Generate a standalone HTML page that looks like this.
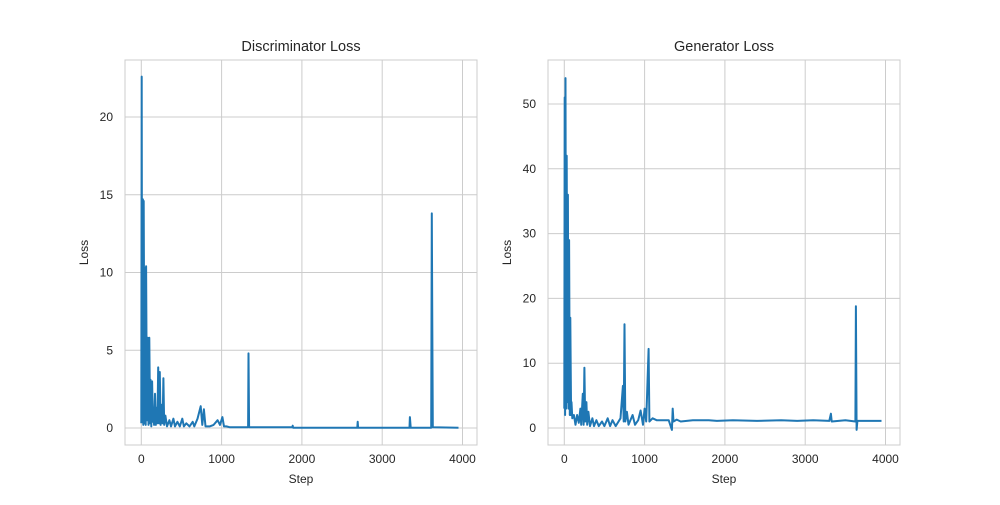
<!DOCTYPE html>
<html><head><meta charset="utf-8"><style>
body{margin:0;background:#fff;width:1000px;height:500px;overflow:hidden}
svg text{font-family:"Liberation Sans","DejaVu Sans",sans-serif;fill:#262626}
</style></head><body>
<svg id="fig" width="1000" height="500" xmlns="http://www.w3.org/2000/svg"></svg>
<script>
const dSteps=[0,5,10,20,25,30,40,45,55,60,70,80,90,100,110,115,125,135,145,150,160,170,180,190,200,210,220,230,240,255,265,275,285,300,320,350,370,400,420,450,480,510,530,560,600,640,660,700,740,760,780,800,850,900,950,980,1010,1030,1060,1100,1330,1335,1342,1880,1885,1890,2690,2695,2700,3340,3345,3355,3610,3618,3624,3630,3950];
const dVals=[0.3,22.6,0.5,14.7,0.2,14.6,0.3,10.3,0.2,10.4,0.5,5.8,0.2,5.8,0.3,3.1,0.1,3.0,0.4,1.0,0.2,2.2,0.2,1.3,0.3,3.9,0.3,3.6,0.2,1.5,0.3,3.2,0.2,0.8,0.1,0.5,0.1,0.6,0.1,0.4,0.1,0.6,0.1,0.3,0.1,0.4,0.1,0.6,1.4,0.2,1.2,0.1,0.1,0.2,0.5,0.2,0.7,0.1,0.1,0.05,0.05,4.8,0.05,0.05,0.15,0.02,0.02,0.4,0.02,0.02,0.7,0.02,0.02,13.8,6.5,0.05,0.02];
const gSteps=[0,5,10,15,22,30,38,45,52,60,68,75,85,90,100,120,140,160,180,200,210,230,240,250,260,275,285,300,320,350,370,400,430,470,500,540,570,600,640,700,730,740,750,760,780,800,850,880,920,950,980,1000,1020,1050,1060,1100,1150,1300,1340,1350,1360,1400,1450,1600,1800,1900,2100,2400,2700,2900,3100,3300,3320,3330,3500,3625,3632,3640,3650,3950];
const gVals=[3,51,2,54,3,42,4,36,3,29,2,17,2,4,1.5,2,0.5,2,0.8,3,0.5,5.3,0.5,9.3,1,4,0.5,2.5,0.3,1.5,0.3,1.2,0.3,1.0,0.3,1.5,0.3,1.2,0.3,1.5,6.5,1,16,1,2.5,0.5,2,0.5,1.2,2.7,0.5,3,1,12.2,1,1.5,1.2,1.2,-0.3,3,1,1.3,1,1.2,1.2,1.1,1.2,1.1,1.2,1.1,1.2,1.1,2.2,1,1.2,1,18.8,-0.3,1.1,1.1];
const xTicks=[0,1000,2000,3000,4000];
const dTicks=[0,5,10,15,20];
const gTicks=[0,10,20,30,40,50];
const NS="http://www.w3.org/2000/svg";
const svg=document.getElementById('fig');
function el(t,a,p){const e=document.createElementNS(NS,t);for(const k in a)e.setAttribute(k,a[k]);(p||svg).appendChild(e);return e;}
function panel(name,L,R,T,B,x0,x1,y0,y0v,yPer,yTicks,steps,vals,title){
  const g=el('g',{});
  
  
  const X=s=>x0+(x1-x0)*s/4000, Y=v=>y0-v*yPer;
  xTicks.forEach(t=>{const l=el('line',{x1:X(t),x2:X(t),y1:T,y2:B,stroke:'#cccccc','stroke-width':1},g);
    
    const tx=el('text',{x:X(t),y:B+18,'text-anchor':'middle','font-size':12},g);tx.textContent=t;
    });
  yTicks.forEach(t=>{const l=el('line',{x1:L,x2:R,y1:Y(t),y2:Y(t),stroke:'#cccccc','stroke-width':1},g);
    
    const tx=el('text',{x:L-12,y:Y(t)+4,'text-anchor':'end','font-size':12},g);tx.textContent=t;
    });
  const fr=el('rect',{x:L,y:T,width:R-L,height:B-T,fill:'none',stroke:'#cccccc','stroke-width':1},g);
  
  const pts=steps.map((s,i)=>X(s).toFixed(1)+','+Y(vals[i]).toFixed(1)).join(' ');
  const pl=el('polyline',{points:pts,fill:'none',stroke:'#1f77b4','stroke-width':2,'stroke-linejoin':'round'},g);
  
  const tt=el('text',{x:(L+R)/2,y:T-9,'text-anchor':'middle','font-size':14.5},g);tt.textContent=title;
  
  const xl=el('text',{x:(L+R)/2,y:B+38,'text-anchor':'middle','font-size':12},g);xl.textContent='Step';
  
  const yl=el('text',{x:0,y:0,'text-anchor':'middle','font-size':12,transform:`translate(${L-37},${(T+B)/2}) rotate(-90)`},g);yl.textContent='Loss';
  
}
panel('discriminator',125,477,60,445,141.3,462.5,428,0,15.55,dTicks,dSteps,dVals,'Discriminator Loss');
panel('generator',548,900,60,445,564.3,885.5,428,0,6.48,gTicks,gSteps,gVals,'Generator Loss');
</script>
</body></html>
